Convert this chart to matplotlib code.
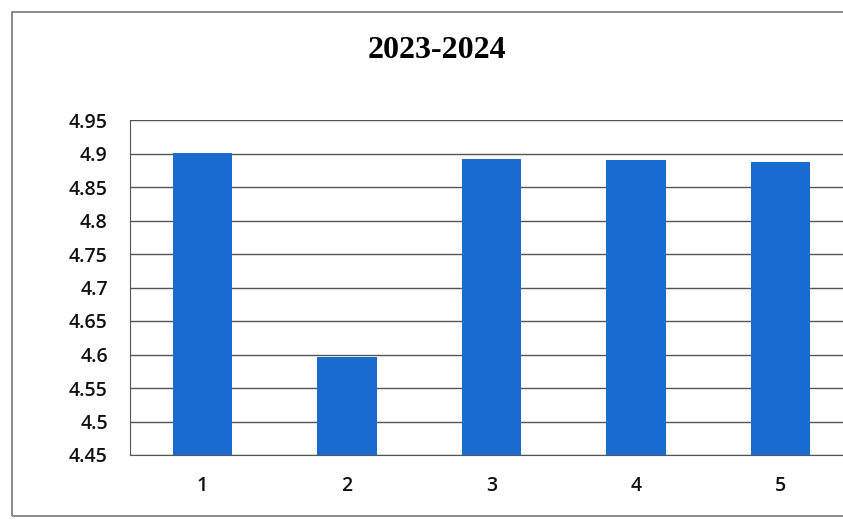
import matplotlib

matplotlib.use("Agg")
import matplotlib.pyplot as plt
from matplotlib.patches import Rectangle

categories = ["1", "2", "3", "4", "5"]
values = [4.90, 4.597, 4.892, 4.89, 4.887]
yticks = [4.45, 4.5, 4.55, 4.6, 4.65, 4.7, 4.75, 4.8, 4.85, 4.9, 4.95]
title = "2023-2024"

BAR = "#1a6bcf"
GRID = "#555555"

fig = plt.figure(figsize=(8.43, 5.21), dpi=100)
fig.patch.set_facecolor("white")

# рамка области диаграммы (правый край за пределами кадра)
fig.patches.append(Rectangle((12 / 843, 1 - 516 / 521), 1.2, (516 - 12) / 521,
                             transform=fig.transFigure, fill=False,
                             edgecolor="#777777", lw=1.2))

ax = fig.add_axes([130 / 843, 1 - 455 / 521, (853 - 130) / 843, (455 - 120) / 521])
x = list(range(1, len(categories) + 1))
ax.bar(x, [v - yticks[0] for v in values], bottom=yticks[0], width=0.41,
       color=BAR, zorder=3)
ax.set_xlim(0.5, len(categories) + 0.5)
ax.set_ylim(yticks[0], yticks[-1])
ax.set_yticks(yticks)
ax.set_yticklabels([f"{t:g}" for t in yticks])
ax.set_xticks(x)
ax.set_xticklabels(categories)
ax.yaxis.grid(True, color=GRID, lw=1.0, zorder=0)
ax.tick_params(axis="both", length=0, labelsize=14, labelcolor="#111111")
ax.tick_params(axis="y", pad=16)
ax.tick_params(axis="x", pad=15)
for lbl in ax.get_xticklabels() + ax.get_yticklabels():
    lbl.set_family("Open Sans")
    lbl.set_fontweight("semibold")
for side in ("top", "right"):
    ax.spines[side].set_visible(False)
ax.spines["left"].set_color(GRID)
ax.spines["bottom"].set_color(GRID)

fig.text(437 / 843, 1 - 50 / 521, title, ha="center", va="center",
         fontsize=23, fontweight="bold", family="Liberation Serif")

fig.savefig("out.png", dpi=100)
